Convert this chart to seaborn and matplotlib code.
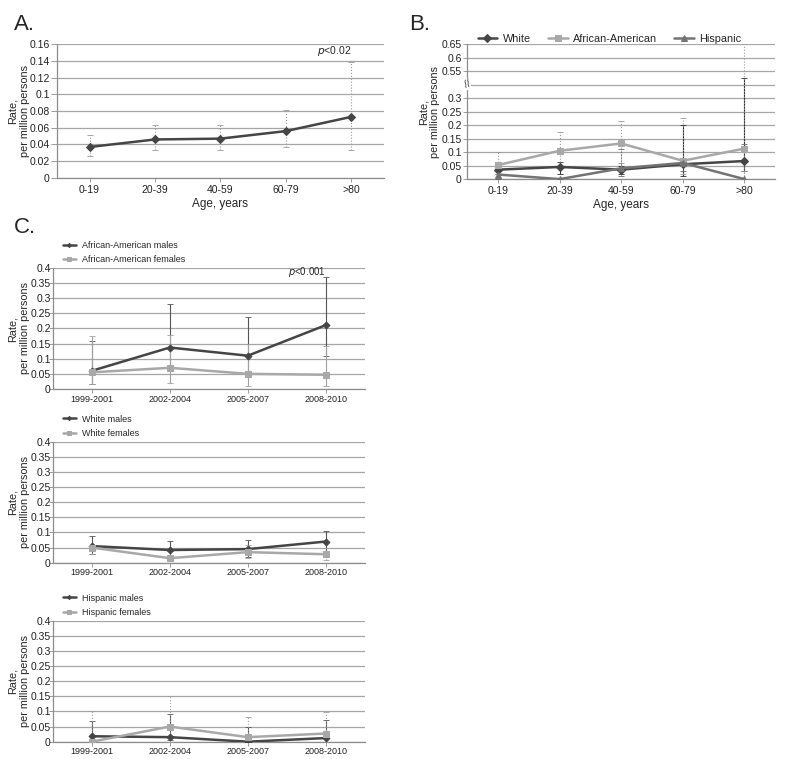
import numpy as np
import pandas as pd
import matplotlib.pyplot as plt
import seaborn as sns

sns.set_theme(style="white")
plt.rcParams["font.family"] = ["Liberation Sans", "DejaVu Sans"]

# ---- data ----
age_groups = ["0-19", "20-39", "40-59", "60-79", ">80"]
periods = ["1999-2001", "2002-2004", "2005-2007", "2008-2010"]

# panel A: overall rate by age
a_rate = [0.037, 0.046, 0.047, 0.056, 0.073]
a_low = [0.026, 0.034, 0.034, 0.037, 0.033]
a_high = [0.051, 0.063, 0.063, 0.081, 0.139]

# panel B: rate by age and race
b_white = [0.035, 0.045, 0.035, 0.055, 0.067]
b_white_low = [0.02, 0.02, 0.02, 0.01, 0.03]
b_white_high = [0.05, 0.065, 0.05, 0.20, 0.49]
b_aa = [0.052, 0.105, 0.132, 0.068, 0.113]
b_aa_low = [0.02, 0.04, 0.06, 0.02, 0.03]
b_aa_high = [0.10, 0.175, 0.215, 0.228, 0.70]
b_hisp = [0.017, 0.0, 0.04, 0.06, 0.0]
b_hisp_low = [0.0, 0.0, 0.01, 0.03, 0.0]
b_hisp_high = [0.035, 0.0, 0.11, 0.08, 0.13]

# panel C: rate by period, sex and race
aa_m = [0.06, 0.137, 0.11, 0.211]
aa_m_low = [0.015, 0.07, 0.04, 0.11]
aa_m_high = [0.16, 0.28, 0.238, 0.37]
aa_f = [0.055, 0.07, 0.05, 0.047]
aa_f_low = [0.015, 0.02, 0.01, 0.01]
aa_f_high = [0.175, 0.178, 0.148, 0.143]

wh_m = [0.055, 0.042, 0.045, 0.07]
wh_m_low = [0.03, 0.01, 0.02, 0.04]
wh_m_high = [0.088, 0.072, 0.075, 0.105]
wh_f = [0.05, 0.015, 0.035, 0.028]
wh_f_low = [0.03, 0.005, 0.015, 0.01]
wh_f_high = [0.06, 0.04, 0.06, 0.05]

hi_m = [0.018, 0.015, 0.0, 0.012]
hi_m_low = [0.0, 0.005, 0.0, 0.0]
hi_m_high = [0.07, 0.09, 0.05, 0.072]
hi_f = [0.0, 0.05, 0.015, 0.027]
hi_f_low = [0.0, 0.0, 0.0, 0.0]
hi_f_high = [0.10, 0.15, 0.083, 0.098]

DARK = "#454545"
LIGHT = "#a8a8a8"
MID = "#737373"
GRID = "#a6a6a6"
YLABEL = "Rate,\nper million persons"


def style_axes(ax, yticks, ylabels):
    ax.set_yticks(yticks)
    ax.set_yticklabels(ylabels)
    ax.grid(axis="y", color=GRID, lw=0.9)
    ax.grid(axis="x", visible=False)
    ax.set_axisbelow(True)
    for s in ["top", "right"]:
        ax.spines[s].set_visible(False)
    for s in ["left", "bottom"]:
        ax.spines[s].set_color("#8c8c8c")
        ax.spines[s].set_linewidth(0.9)
    ax.tick_params(axis="both", which="both", length=3, width=0.6,
                   color="#8c8c8c", labelsize=7.5, pad=2,
                   left=True, bottom=True, labelcolor="#222222")
    ax.tick_params(axis="y", length=3, pad=1)


def set_ylabel(ax, xpos, size):
    ax.set_ylabel(YLABEL, fontsize=size, linespacing=1.2)
    ax.yaxis.set_label_coords(xpos, 0.5)


def series(ax, x, y, lo, hi, color, marker, label, ecolor, els="-", ms=5):
    ylo = np.array(y) - np.array(lo)
    yhi = np.array(hi) - np.array(y)
    eb = ax.errorbar(x, y, yerr=[ylo, yhi], fmt="none", ecolor=ecolor,
                     elinewidth=0.8, capsize=2.5, capthick=0.6, zorder=3)
    eb[2][0].set_linestyle(els)
    sns.lineplot(x=x, y=y, ax=ax, color=color, marker=marker, markersize=ms,
                 markeredgecolor=color, lw=1.8, label=label, sort=False,
                 zorder=4)


fig = plt.figure(figsize=(8, 7.59), dpi=100)

# ---------- Panel A ----------
axA = fig.add_axes([0.071, 0.7655, 0.409, 0.1765])
series(axA, age_groups, a_rate, a_low, a_high, DARK, "D", None, "#9a9a9a",
       els=":", ms=4)
axA.set_xlim(-0.5, 4.5)
axA.set_ylim(0, 0.16)
style_axes(axA, np.arange(0, 0.161, 0.02),
           ["0", "0.02", "0.04", "0.06", "0.08", "0.1", "0.12", "0.14", "0.16"])
axA.tick_params(axis="y", length=4, pad=1)
axA.set_xlabel("Age, years", fontsize=8.5, labelpad=2)
set_ylabel(axA, -0.083, 7.8)
axA.text(4, 0.148, "$p$<0.02", ha="right", fontsize=7.5)
fig.text(0.017, 0.968, "A.", fontsize=16, va="center")

# ---------- Panel B (broken axis) ----------
def fwd(v):
    v = np.asarray(v, dtype=float)
    return np.where(v <= 0.3, v, np.where(v <= 0.55, 0.3 + (v - 0.3) * 0.4,
                                          v - 0.15))


def inv(p):
    p = np.asarray(p, dtype=float)
    return np.where(p <= 0.3, p, np.where(p <= 0.4, 0.3 + (p - 0.3) / 0.4,
                                          p + 0.15))


axB = fig.add_axes([0.584, 0.764, 0.385, 0.178])
axB.set_yscale("function", functions=(fwd, inv))
series(axB, age_groups, b_white, b_white_low, b_white_high, DARK, "D",
       "White", "#303030", els="-", ms=4)
series(axB, age_groups, b_aa, b_aa_low, b_aa_high, LIGHT, "s",
       "African-American", "#9a9a9a", els=":", ms=5)
series(axB, age_groups, b_hisp, b_hisp_low, b_hisp_high, MID, "^",
       "Hispanic", "#6a6a6a", els=":", ms=4)
axB.set_xlim(-0.5, 4.5)
axB.set_ylim(0, 0.65)
style_axes(axB, [0, 0.05, 0.1, 0.15, 0.2, 0.25, 0.3, 0.55, 0.6, 0.65],
           ["0", "0.05", "0.1", "0.15", "0.2", "0.25", "0.3",
            "0.55", "0.6", "0.65"])
axB.axhline(0.425, color=GRID, lw=0.9, zorder=1)
axB.text(0.0, 0.425, "//", transform=axB.get_yaxis_transform(),
         ha="center", va="center", fontsize=7, rotation=20,
         bbox=dict(fc="white", ec="none", pad=0.3))
axB.set_xlabel("Age, years", fontsize=8.5, labelpad=2)
set_ylabel(axB, -0.088, 7.8)
axB.legend(loc="lower left", bbox_to_anchor=(0.02, 0.97), ncol=3,
           frameon=False, fontsize=7.8, handlelength=1.8, columnspacing=1.6,
           borderaxespad=0, handletextpad=0.5)
fig.text(0.512, 0.968, "B.", fontsize=16, va="center")

# ---------- Panel C ----------
c_ticks = [0, 0.05, 0.1, 0.15, 0.2, 0.25, 0.3, 0.35, 0.4]
c_labels = ["0", "0.05", "0.1", "0.15", "0.2", "0.25", "0.3", "0.35", "0.4"]
c_sets = [
    (0.4875, aa_m, aa_m_low, aa_m_high, aa_f, aa_f_low, aa_f_high,
     "African-American", ("-", "-")),
    (0.2586, wh_m, wh_m_low, wh_m_high, wh_f, wh_f_low, wh_f_high,
     "White", ("-", ":")),
    (0.0228, hi_m, hi_m_low, hi_m_high, hi_f, hi_f_low, hi_f_high,
     "Hispanic", ("-", ":")),
]
for i, (bot, m, ml, mh, f, fl, fh, grp, ls) in enumerate(c_sets):
    ax = fig.add_axes([0.066, bot, 0.39, 0.1595])
    series(ax, periods, m, ml, mh, DARK, "D", f"{grp} males", "#555555",
           els=ls[0], ms=3.5)
    series(ax, periods, f, fl, fh, LIGHT, "s", f"{grp} females", "#a0a0a0",
           els=ls[1], ms=5)
    ax.set_xlim(-0.5, 3.5)
    ax.set_ylim(0, 0.4)
    style_axes(ax, c_ticks, c_labels)
    ax.tick_params(axis="x", labelsize=6.5, pad=1)
    ax.tick_params(axis="y", length=3, pad=-1.5)
    for lab in ax.get_yticklabels():
        lab.set_va("center_baseline")
    set_ylabel(ax, -0.074, 7.8)
    ax.legend(loc="lower left", bbox_to_anchor=(0.02, 1.0), ncol=1,
              frameon=False, fontsize=6.5, handlelength=1.5,
              borderaxespad=0, handletextpad=0.6, labelspacing=0.6,
              markerscale=0.6)
    if i == 0:
        ax.text(3, 0.376, "$p$<0.001", ha="right", fontsize=7)
fig.text(0.017, 0.70, "C.", fontsize=16, va="center")

fig.savefig("out.png", dpi=100)
